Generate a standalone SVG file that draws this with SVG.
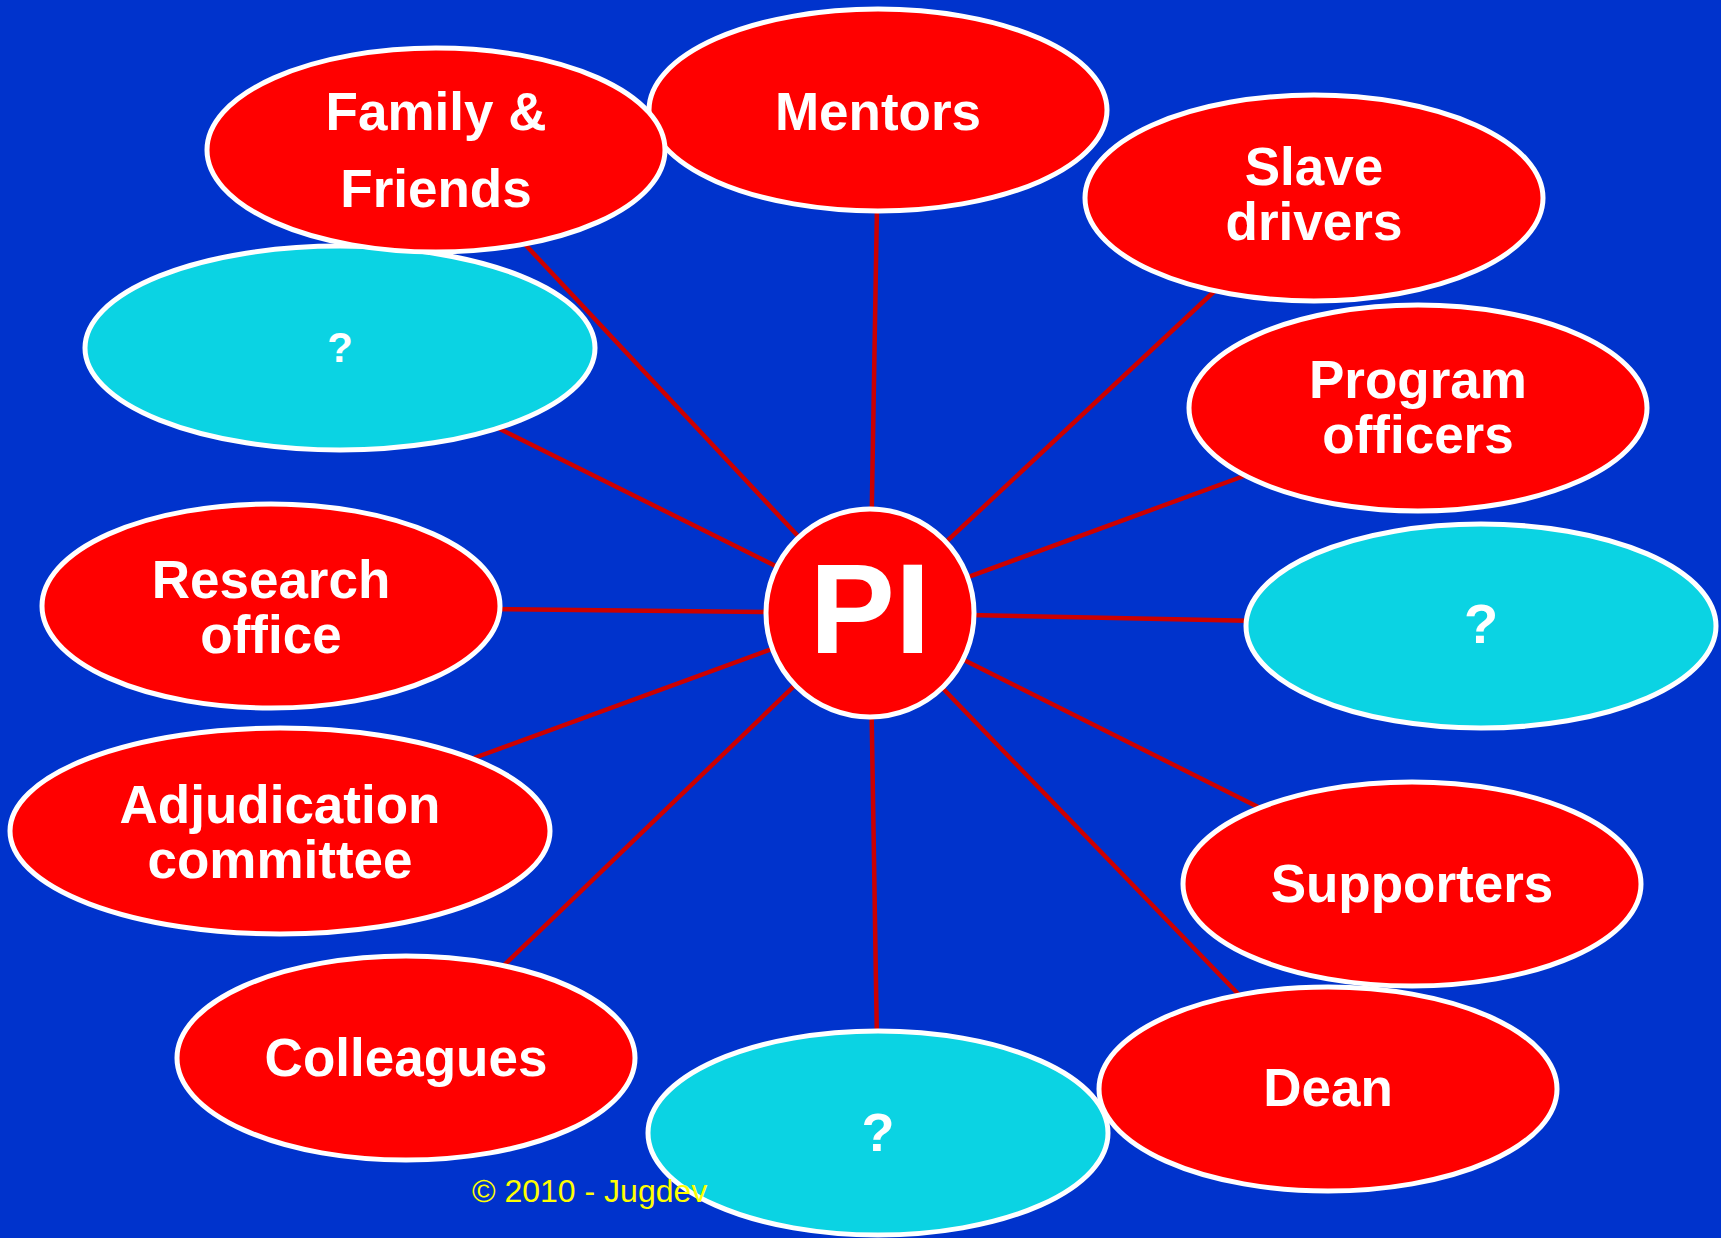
<svg xmlns="http://www.w3.org/2000/svg" width="1721" height="1238" viewBox="0 0 1721 1238">
<style>
.red{fill:#ff0000;stroke:#ffffff;stroke-width:5}
.cyan{fill:#0bd3e3;stroke:#ffffff;stroke-width:5}
.lbl{font-family:"Liberation Sans",Arial,sans-serif;font-weight:bold;font-size:53px;fill:#ffffff;text-anchor:middle}
.q{font-family:"Liberation Sans",Arial,sans-serif;font-weight:bold;fill:#ffffff;text-anchor:middle}
.conn line{stroke:#cc0000;stroke-width:4.5}
</style>
<rect x="0" y="0" width="1721" height="1238" fill="#0033cc"/>
<g id="connectors" class="conn">
<line x1="870" y1="613" x2="520" y2="239"/>
<line x1="870" y1="613" x2="490" y2="424"/>
<line x1="870" y1="613" x2="877" y2="205"/>
<line x1="870" y1="613" x2="1220" y2="286"/>
<line x1="870" y1="613" x2="1252" y2="473"/>
<line x1="870" y1="613" x2="1260" y2="621"/>
<line x1="870" y1="613" x2="488" y2="609"/>
<line x1="870" y1="613" x2="463" y2="762"/>
<line x1="870" y1="613" x2="497" y2="972"/>
<line x1="870" y1="613" x2="877" y2="1045"/>
<line x1="870" y1="613" x2="1245" y2="1001"/>
<line x1="870" y1="613" x2="1268" y2="812"/>
</g>
<g id="q-left">
<ellipse class="cyan" cx="340" cy="348" rx="255" ry="102"/>
<text class="q" x="340" y="362" font-size="42">?</text>
</g>
<g id="mentors">
<ellipse class="red" cx="878" cy="110" rx="229" ry="101"/>
<text class="lbl" x="878" y="130">Mentors</text>
</g>
<g id="family-friends">
<ellipse class="red" cx="436" cy="150" rx="229" ry="102"/>
<text class="lbl" x="436" y="130">Family &amp;</text>
<text class="lbl" x="436" y="207">Friends</text>
</g>
<g id="slave-drivers">
<ellipse class="red" cx="1314" cy="198" rx="229" ry="103"/>
<text class="lbl" x="1314" y="185">Slave</text>
<text class="lbl" x="1314" y="240">drivers</text>
</g>
<g id="program-officers">
<ellipse class="red" cx="1418" cy="408" rx="229" ry="103"/>
<text class="lbl" x="1418" y="398">Program</text>
<text class="lbl" x="1418" y="453">officers</text>
</g>
<g id="q-right">
<ellipse class="cyan" cx="1481" cy="626" rx="235" ry="102"/>
<text class="q" x="1481" y="643" font-size="56">?</text>
</g>
<g id="research-office">
<ellipse class="red" cx="271" cy="606" rx="229" ry="102"/>
<text class="lbl" x="271" y="598">Research</text>
<text class="lbl" x="271" y="653">office</text>
</g>
<g id="adjudication-committee">
<ellipse class="red" cx="280" cy="831" rx="270" ry="103"/>
<text class="lbl" x="280" y="823">Adjudication</text>
<text class="lbl" x="280" y="878">committee</text>
</g>
<g id="colleagues">
<ellipse class="red" cx="406" cy="1058" rx="229" ry="102"/>
<text class="lbl" x="406" y="1076">Colleagues</text>
</g>
<g id="supporters">
<ellipse class="red" cx="1412" cy="884" rx="229" ry="102"/>
<text class="lbl" x="1412" y="902">Supporters</text>
</g>
<g id="dean">
<ellipse class="red" cx="1328" cy="1089" rx="229" ry="102"/>
<text class="lbl" x="1328" y="1106">Dean</text>
</g>
<g id="q-bottom">
<ellipse class="cyan" cx="878" cy="1133" rx="230" ry="102"/>
<text class="q" x="878" y="1151" font-size="54">?</text>
</g>
<g id="pi">
<ellipse class="red" cx="870" cy="613" rx="104" ry="104"/>
<text class="q" x="870" y="653" font-size="128">PI</text>
</g>
<text x="472" y="1202" font-family="'Liberation Sans',Arial,sans-serif" font-size="32" fill="#ffff00">© 2010 - Jugdev</text>
</svg>
